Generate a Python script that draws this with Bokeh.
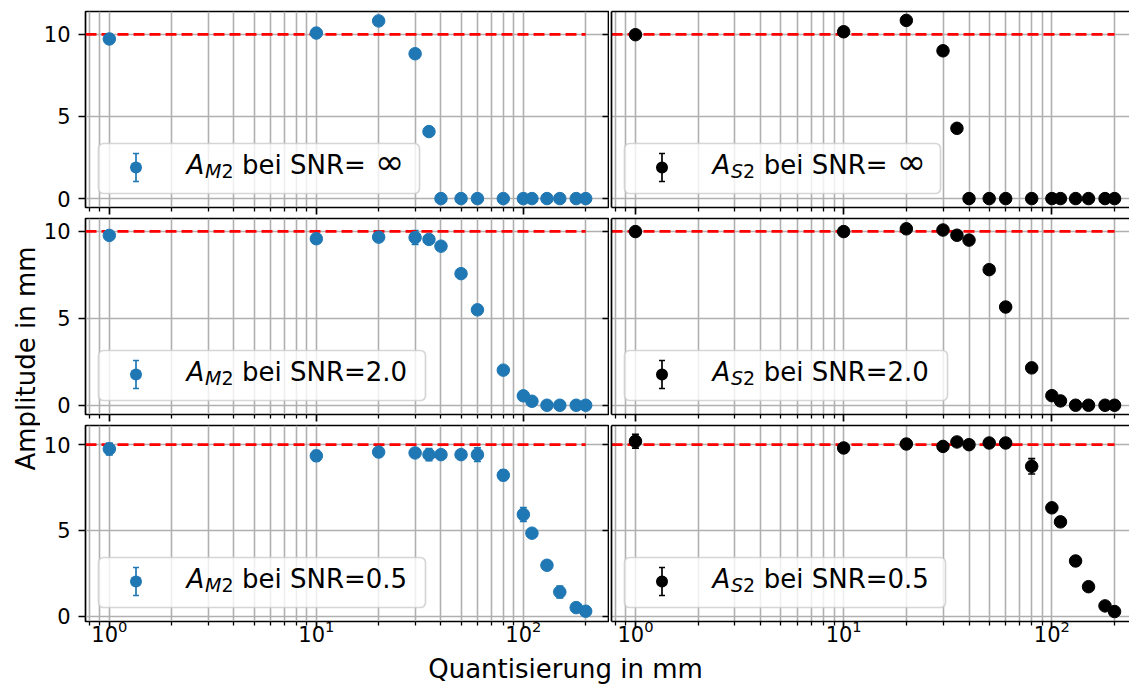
import math
from bokeh.plotting import figure
from bokeh.models import (Range1d, LogAxis, LinearAxis, FixedTicker, ColumnDataSource,
                          Whisker, TeeHead, BoxAnnotation, Label, CustomJSTickFormatter,
                          LogTickFormatter)
from bokeh.layouts import row, column
from bokeh.embed import file_html
from bokeh.resources import INLINE

# ---------------- data ----------------
quant_mm = [1, 10, 20, 30, 35, 40, 50, 60, 80, 100, 110, 130, 150, 180, 200]
true_amp = 10.0

am2_inf = [9.72, 10.08, 10.82, 8.82, 4.08, 0.0, 0.0, 0.0, 0.0, 0.0, 0.0, 0.0, 0.0, 0.0, 0.0]
am2_inf_err = [0.0, 0.0, 0.0, 0.0, 0.0, 0.0, 0.0, 0.0, 0.0, 0.0, 0.0, 0.0, 0.0, 0.0, 0.0]
as2_inf = [9.98, 10.16, 10.85, 9.0, 4.28, 0.0, 0.0, 0.0, 0.0, 0.0, 0.0, 0.0, 0.0, 0.0, 0.0]
as2_inf_err = [0.0, 0.0, 0.0, 0.0, 0.0, 0.0, 0.0, 0.0, 0.0, 0.0, 0.0, 0.0, 0.0, 0.0, 0.0]

am2_snr2 = [9.77, 9.58, 9.67, 9.65, 9.54, 9.15, 7.57, 5.49, 2.02, 0.54, 0.23, 0.0, 0.0, 0.0, 0.0]
am2_snr2_err = [0.1, 0.1, 0.12, 0.4, 0.1, 0.1, 0.08, 0.08, 0.06, 0.05, 0.05, 0.02, 0.02, 0.02, 0.02]
as2_snr2 = [9.99, 9.99, 10.15, 10.08, 9.78, 9.5, 7.8, 5.65, 2.15, 0.55, 0.25, 0.0, 0.0, 0.0, 0.0]
as2_snr2_err = [0.05, 0.05, 0.08, 0.05, 0.06, 0.08, 0.06, 0.05, 0.05, 0.04, 0.04, 0.02, 0.02, 0.02, 0.02]

am2_snr05 = [9.75, 9.35, 9.57, 9.52, 9.42, 9.42, 9.42, 9.42, 8.22, 5.93, 4.84, 2.97, 1.41, 0.5, 0.29]
am2_snr05_err = [0.35, 0.3, 0.25, 0.2, 0.35, 0.2, 0.2, 0.4, 0.3, 0.4, 0.2, 0.15, 0.35, 0.12, 0.08]
as2_snr05 = [10.2, 9.81, 10.04, 9.9, 10.16, 10.0, 10.1, 10.1, 8.74, 6.32, 5.5, 3.22, 1.72, 0.6, 0.27]
as2_snr05_err = [0.4, 0.15, 0.2, 0.15, 0.2, 0.15, 0.2, 0.2, 0.45, 0.2, 0.2, 0.15, 0.15, 0.12, 0.06]

snr_labels = ["\u221e", "2.0", "0.5"]
series_names = ["M", "S"]

x_major_ticks = [1, 10, 100]
x_minor_ticks = [0.8, 0.9, 2, 3, 4, 5, 6, 7, 8, 9, 20, 30, 40, 50, 60, 70, 80, 90, 200]
y_major_ticks = [0, 5, 10]

x_label = "Quantisierung in mm"
y_label = "Amplitude in mm"

# ---------------- style / layout ----------------
FONT = "DejaVu Sans"
BLUE = "#1f77b4"
BLACK = "#000000"
GRID = "#b0b0b0"
W, H = 1129, 689
YLAB_W = 40
L_BORDER = 42
L_FW = 527
R_BORDER = 2
R_FW = W - YLAB_W - L_BORDER - L_FW - R_BORDER
FH = 196
ROW_TOP = [11, 2, 2]
ROW_BOT = [9, 9, 36]
XLAB_OVERLAP = 8
XLAB_H = H - sum(ROW_TOP) - sum(ROW_BOT) - 3 * FH + XLAB_OVERLAP
LEG_W = [[321, 327, 327], [316, 323, 321]]
BASE_SHIFT = 0.4  # baseline compensation (fraction of font size)

rows_data = [
    [(am2_inf, am2_inf_err), (as2_inf, as2_inf_err)],
    [(am2_snr2, am2_snr2_err), (as2_snr2, as2_snr2_err)],
    [(am2_snr05, am2_snr05_err), (as2_snr05, as2_snr05_err)],
]
colors = [BLUE, BLACK]

# x ranges (5% margin in log space)
lx0 = math.log10(min(quant_mm))
lx1 = math.log10(max(quant_mm))
lpad = 0.05 * (lx1 - lx0)
x_start = 10 ** (lx0 - lpad)
x_end_left = 10 ** (lx1 + lpad)
px_per_dec = L_FW / ((lx1 + lpad) - (lx0 - lpad))
x_end_right = 10 ** ((lx0 - lpad) + R_FW / px_per_dec)
x_ranges = [Range1d(x_start, x_end_left), Range1d(x_start, x_end_right)]

empty_fmt = "return ''"


def hidden_labels(ax):
    ax.formatter = CustomJSTickFormatter(code=empty_fmt)
    ax.major_label_text_font_size = "0px"
    ax.major_label_standoff = 0


def sbox(**kw):
    return BoxAnnotation(left_units="screen", right_units="screen",
                         bottom_units="screen", top_units="screen", **kw)


def txt(p, x, y, text, size, style="normal"):
    p.add_layout(Label(x=x, y=y + BASE_SHIFT * size, x_units="screen", y_units="screen",
                       text=text, text_font=FONT, text_font_size=f"{size}px",
                       text_font_style=style, text_color="black",
                       text_align="left", text_baseline="alphabetic"))


def add_legend(p, color, name, snr, w):
    left, bottom, hgt = 13, 14, 50
    p.add_layout(sbox(left=left, right=left + w, bottom=bottom, top=bottom + hgt,
                      fill_color="white", fill_alpha=0.8,
                      line_color="#cccccc", line_alpha=0.8, line_width=1.7,
                      border_radius=5))
    cx, cy, half, r = left + 37.5, bottom + 26, 14, 6
    p.add_layout(sbox(left=cx - 0.85, right=cx + 0.85, bottom=cy - half, top=cy + half,
                      fill_color=color, fill_alpha=1, line_color=None))
    for yy in (cy - half, cy + half):
        p.add_layout(sbox(left=cx - 3, right=cx + 3, bottom=yy - 0.85, top=yy + 0.85,
                          fill_color=color, fill_alpha=1, line_color=None))
    p.add_layout(sbox(left=cx - r, right=cx + r, bottom=cy - r, top=cy + r,
                      fill_color=color, fill_alpha=1, line_color=None,
                      border_radius=r))
    tx, base = left + 88, bottom + 18
    txt(p, tx, base, "A", 26, "italic")
    sx = tx + 18.5
    txt(p, sx, base - 2.8, name, 19, "italic")
    sub_w = 16.4 if name == "M" else 12.1
    txt(p, sx + sub_w, base - 2.8, "2", 19)
    bx = sx + sub_w + 12.1 + 8.5
    if snr == "\u221e":
        txt(p, bx, base, "bei SNR=", 26)
        txt(p, bx + 133, base, snr, 35)
    else:
        txt(p, bx, base, "bei SNR=" + snr, 26)


figs = []
for r in range(3):
    (yl, el), (yr_, er) = rows_data[r]
    lo = min(min(a - b for a, b in zip(yl, el)), min(a - b for a, b in zip(yr_, er)))
    hi = max(max(a + b for a, b in zip(yl, el)), max(a + b for a, b in zip(yr_, er)))
    ypad = 0.05 * (hi - lo)
    y_range = Range1d(lo - ypad, hi + ypad)
    row_figs = []
    for c in range(2):
        yv, ev = rows_data[r][c]
        color = colors[c]
        left_b = L_BORDER if c == 0 else R_BORDER
        fw = L_FW if c == 0 else R_FW
        p = figure(width=left_b + fw, height=ROW_TOP[r] + FH + ROW_BOT[r],
                   x_range=x_ranges[c], y_range=y_range, x_axis_type="log",
                   x_axis_location=None, y_axis_location=None,
                   toolbar_location=None, output_backend="svg",
                   min_border_left=left_b, min_border_right=0,
                   min_border_top=ROW_TOP[r], min_border_bottom=ROW_BOT[r],
                   background_fill_color="white", border_fill_color="white")
        if c == 0:
            p.outline_line_color = "black"
            p.outline_line_width = 1.7
        else:
            p.outline_line_color = None

        xt = FixedTicker(ticks=x_major_ticks, minor_ticks=x_minor_ticks)
        yt = FixedTicker(ticks=y_major_ticks)
        for g in p.xgrid:
            g.ticker = xt
            g.grid_line_color = GRID
            g.grid_line_width = 1.6
            g.minor_grid_line_color = GRID
            g.minor_grid_line_width = 1.6
        for g in p.ygrid:
            g.ticker = yt
            g.grid_line_color = GRID
            g.grid_line_width = 1.6

        # bottom axis
        bx = LogAxis(ticker=xt, major_tick_out=7, major_tick_in=0, minor_tick_out=4, minor_tick_in=0,
                     major_tick_line_width=1.7, minor_tick_line_width=1.3,
                     major_tick_line_color="black", minor_tick_line_color="black",
                     axis_line_color=None if c == 0 else "black", axis_line_width=1.7,
                     major_label_text_font=FONT, major_label_text_font_size="21px",
                     major_label_text_color="black", major_label_standoff=-9,
                     formatter=LogTickFormatter())
        if r < 2:
            hidden_labels(bx)
        p.add_layout(bx, "below")

        if c == 0:
            ly = LinearAxis(ticker=yt, major_tick_out=7, major_tick_in=0,
                            major_tick_line_width=1.7, major_tick_line_color="black",
                            minor_tick_line_color=None, axis_line_color=None,
                            major_label_text_font=FONT, major_label_text_font_size="21px",
                            major_label_text_color="black", major_label_standoff=8)
            p.add_layout(ly, "left")
            ry = LinearAxis(ticker=yt, major_tick_out=0, major_tick_in=7,
                            major_tick_line_width=1.7, major_tick_line_color="black",
                            minor_tick_line_color=None, axis_line_color=None)
            hidden_labels(ry)
            p.add_layout(ry, "right")
        else:
            ly = LinearAxis(ticker=FixedTicker(ticks=[]), major_tick_line_color=None,
                            minor_tick_line_color=None, axis_line_color="black", axis_line_width=1.7)
            hidden_labels(ly)
            p.add_layout(ly, "left")
            ta = LogAxis(ticker=FixedTicker(ticks=[]), major_tick_line_color=None,
                         minor_tick_line_color=None, axis_line_color="black", axis_line_width=1.7)
            hidden_labels(ta)
            p.add_layout(ta, "above")

        # reference amplitude line
        p.segment(x0=[x_ranges[c].start], y0=[true_amp], x1=[max(quant_mm)], y1=[true_amp],
                  line_color="red", line_width=2.8, line_dash="11 5")

        src = ColumnDataSource(dict(x=quant_mm, y=yv,
                                    lo=[a - b for a, b in zip(yv, ev)],
                                    hi=[a + b for a, b in zip(yv, ev)]))
        wk = Whisker(base="x", upper="hi", lower="lo", source=src, dimension="height",
                     line_color=color, line_width=1.7, level="underlay",
                     upper_head=TeeHead(size=7, line_color=color, line_width=1.7),
                     lower_head=TeeHead(size=7, line_color=color, line_width=1.7))
        p.add_layout(wk)
        p.scatter(x="x", y="y", source=src, size=12.5, fill_color=color, line_color=color)

        add_legend(p, color, series_names[c], snr_labels[r], LEG_W[c][r])
        row_figs.append(p)
    figs.append(row(*row_figs))

# shared axis labels
ylab = figure(width=YLAB_W, height=H, x_range=Range1d(0, 1), y_range=Range1d(0, 1),
              x_axis_location=None, y_axis_location=None, toolbar_location=None,
              output_backend="svg", min_border=0, outline_line_color=None)
ylab.grid.visible = False
ylab.add_layout(Label(x=25, y=H - 358, x_units="screen", y_units="screen", text=y_label,
                      angle=math.pi / 2, text_align="center", text_baseline="middle",
                      text_font=FONT, text_font_size="26px", text_color="black"))

xlab = figure(width=W - YLAB_W, height=XLAB_H, x_range=Range1d(0, 1), y_range=Range1d(0, 1),
              x_axis_location=None, y_axis_location=None, toolbar_location=None,
              output_backend="svg", min_border=0, outline_line_color=None,
              background_fill_color=None, border_fill_color=None,
              margin=(-XLAB_OVERLAP, 0, 0, 0))
xlab.grid.visible = False
xlab.add_layout(Label(x=565 - YLAB_W, y=H - 668, x_units="screen", y_units="screen",
                      text=x_label, text_align="center", text_baseline="middle",
                      text_font=FONT, text_font_size="26px", text_color="black"))

layout = row(ylab, column(*figs, xlab))
open("out.html", "w").write(file_html(layout, INLINE))
